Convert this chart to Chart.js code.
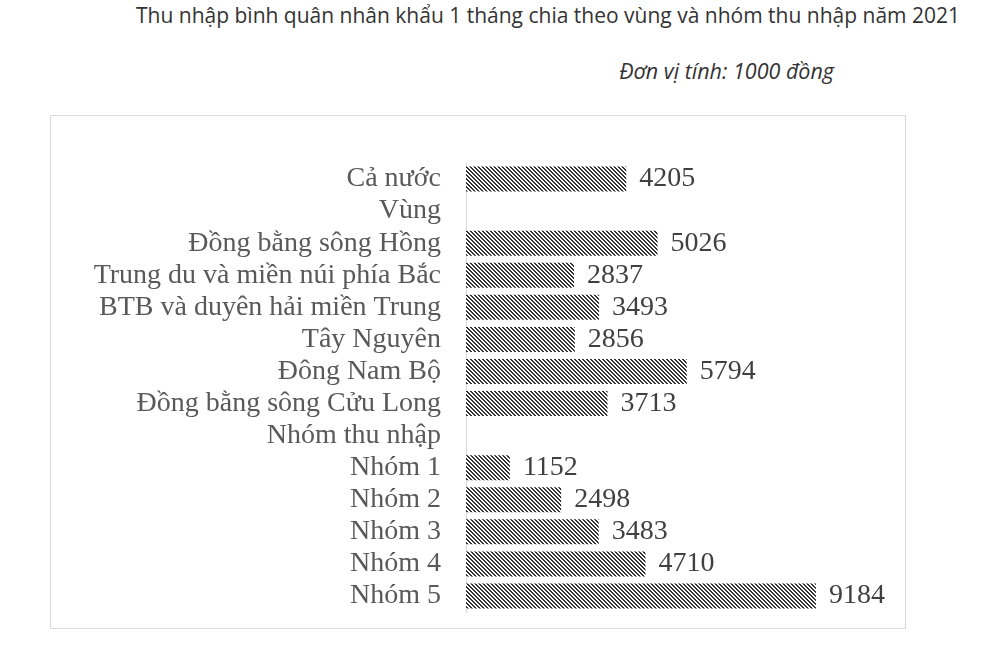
<!DOCTYPE html>
<html>
<head>
<meta charset="utf-8">
<script src="https://cdn.jsdelivr.net/npm/chart.js@4/dist/chart.umd.min.js"></script>
<style>
  body { margin: 0; background: #fff; width: 981px; height: 655px; position: relative; overflow: hidden; }
  #title { position: absolute; right: 21px; top: 1px; font-family: "Open Sans", sans-serif; font-size: 21px; color: #333; white-space: nowrap; }
  #unit { position: absolute; right: 147px; top: 56px; font-family: "Open Sans", sans-serif; font-style: italic; font-size: 21.5px; color: #333; white-space: nowrap; }
  #box { position: absolute; left: 50px; top: 115px; width: 854px; height: 512px; border: 1px solid #d9d9d9; }
</style>
</head>
<body>
<div id="title">Thu nhập bình quân nhân khẩu 1 tháng chia theo vùng và nhóm thu nhập năm 2021</div>
<div id="unit">Đơn vị tính: 1000 đồng</div>
<div id="box"><canvas id="chart" width="854" height="512"></canvas></div>
<script>
// Categories and values (1000 dong)
const categories = [
    'Cả nước',
    'Vùng',
    'Đồng bằng sông Hồng',
    'Trung du và miền núi phía Bắc',
    'BTB và duyên hải miền Trung',
    'Tây Nguyên',
    'Đông Nam Bộ',
    'Đồng bằng sông Cửu Long',
    'Nhóm thu nhập',
    'Nhóm 1',
    'Nhóm 2',
    'Nhóm 3',
    'Nhóm 4',
    'Nhóm 5'
];
const incomeValues = [4205, null, 5026, 2837, 3493, 2856, 5794, 3713, null, 1152, 2498, 3483, 4710, 9184];

// Diagonal hatch fill like the original
function makeHatch() {
    const c = document.createElement('canvas');
    c.width = 4;
    c.height = 4;
    const g = c.getContext('2d');
    g.fillStyle = '#fff';
    g.fillRect(0, 0, 4, 4);
    g.fillStyle = '#333';
    for (let y = 0; y < 4; y++) {
        for (let x = 0; x < 4; x++) {
            const d = ((x - y) % 4 + 4) % 4;
            if (d === 0 || d === 1) g.fillRect(x, y, 1, 1);
        }
    }
    return g.createPattern(c, 'repeat');
}

// Draw the numbers at the end of each bar
const valueLabels = {
    id: 'valueLabels',
    afterDatasetsDraw(chart) {
        const ctx = chart.ctx;
        const meta = chart.getDatasetMeta(0);
        ctx.save();
        ctx.font = '28px "Liberation Serif", "Times New Roman", serif';
        ctx.fillStyle = '#404040';
        ctx.textAlign = 'left';
        ctx.textBaseline = 'middle';
        meta.data.forEach((bar, i) => {
            const v = incomeValues[i];
            if (v === null) return;
            ctx.fillText(String(v), bar.x + 13, bar.y);
        });
        ctx.restore();
    }
};

const ctx = document.getElementById('chart').getContext('2d');
new Chart(ctx, {
    type: 'bar',
    data: {
        labels: categories,
        datasets: [{
            data: incomeValues,
            backgroundColor: makeHatch(),
            borderWidth: 0,
            barPercentage: 0.78,
            categoryPercentage: 1
        }]
    },
    options: {
        indexAxis: 'y',
        responsive: false,
        animation: false,
        layout: {
            padding: { top: 47, bottom: 16, left: 0, right: 58 }
        },
        plugins: {
            legend: { display: false },
            tooltip: { enabled: false }
        },
        scales: {
            x: {
                display: false,
                min: 0,
                max: 10000
            },
            y: {
                afterFit: function(scale) {
                    scale.width = 415;
                    // labels sit inside the plot rows, no extra room needed
                    scale.paddingTop = 0;
                    scale.paddingBottom = 0;
                },
                grid: { display: false, drawTicks: false },
                border: { display: true, color: '#d9d9d9', width: 1 },
                ticks: {
                    autoSkip: false,
                    padding: 25,
                    color: '#595959',
                    font: { family: '"Liberation Serif", "Times New Roman", serif', size: 28 }
                }
            }
        }
    },
    plugins: [valueLabels]
});
</script>
</body>
</html>
